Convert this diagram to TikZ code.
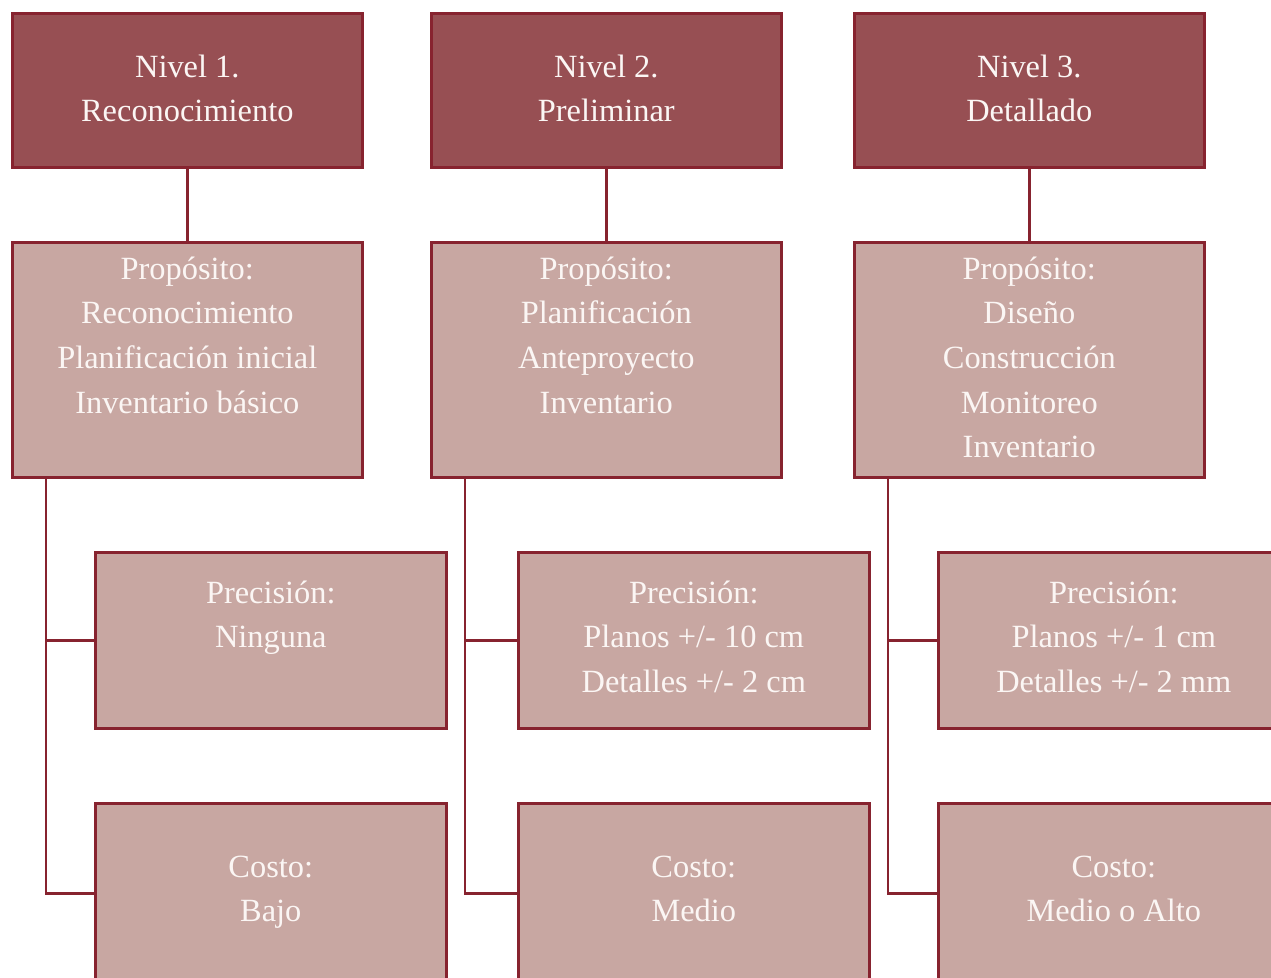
\documentclass[tikz,border=0pt]{standalone}
\usepackage{fontspec}
\setmainfont{Liberation Serif}
\usetikzlibrary{calc}
\definecolor{edge}{HTML}{87232F}
\definecolor{headfill}{HTML}{974F53}
\definecolor{bodyfill}{HTML}{C8A7A2}
\definecolor{ink}{HTML}{FBF6F4}
\begin{document}
\begin{tikzpicture}[x=1pt,y=-1pt,
  box/.style={draw=edge, line width=2.6pt, minimum width=350pt, anchor=north west, inner sep=0pt},
  head/.style={box, fill=headfill, minimum height=154pt},
  purpose/.style={box, fill=bodyfill, minimum height=235pt},
  detail/.style={box, fill=bodyfill, minimum width=351pt, minimum height=176pt},
  cost/.style={box, fill=bodyfill, minimum width=351pt, minimum height=180pt},
  txt/.style={text=ink, align=center, anchor=north, inner sep=0pt, font=\fontsize{32.4}{44.6}\selectfont},
  link/.style={draw=edge, line width=2.6pt}]
\useasboundingbox (0,0) rectangle (1271,977);
\clip (0,0) rectangle (1271,977);
\fill[white] (0,0) rectangle (1271,977);

% level headers
\node[head] (n1) at (11,12) {};
\node[head] (n2) at (430,12) {};
\node[head] (n3) at (853,12) {};

% purpose boxes
\node[purpose] (p1) at (11,241) {};
\node[purpose] (p2) at (430,241) {};
\node[purpose] (p3) at (853,241) {};

% precision boxes
\node[detail] (r1) at (94,551) {};
\node[detail] (r2) at (517,551) {};
\node[detail] (r3) at (937,551) {};

% cost boxes
\node[cost] (k1) at (94,802) {};
\node[cost] (k2) at (517,802) {};
\node[cost] (k3) at (937,802) {};

% connectors
\draw[link] (n1) -- (p1);
\draw[link] (n2) -- (p2);
\draw[link] (n3) -- (p3);
\foreach \c/\r/\k in {1/r1/k1, 2/r2/k2, 3/r3/k3} {
  \draw[link] ([xshift=35pt]p\c.south west) |- (\r.west);
  \draw[link] ([xshift=35pt]p\c.south west) |- (\k.west);
}

% texts
\node[txt] (t1) at ($(n1.north)+(0,33.8)$) {\strut Nivel 1.\\Reconocimiento};
\node[txt] (t2) at ($(n2.north)+(0,33.8)$) {\strut Nivel 2.\\Preliminar};
\node[txt] (t3) at ($(n3.north)+(0,33.8)$) {\strut Nivel 3.\\Detallado};

\node[txt] (u1) at ($(p1.north)+(0,6.8)$) {\strut Propósito:\\Reconocimiento\\Planificación inicial\\Inventario básico};
\node[txt] (u2) at ($(p2.north)+(0,6.8)$) {\strut Propósito:\\Planificación\\Anteproyecto\\Inventario};
\node[txt] (u3) at ($(p3.north)+(0,6.8)$) {\strut Propósito:\\Diseño\\Construcción\\Monitoreo\\Inventario};

\node[txt] (v1) at ($(r1.north)+(0,20.8)$) {\strut Precisión:\\Ninguna};
\node[txt] (v2) at ($(r2.north)+(0,20.8)$) {\strut Precisión:\\Planos +/- 10 cm\\Detalles +/- 2 cm};
\node[txt] (v3) at ($(r3.north)+(0,20.8)$) {\strut Precisión:\\Planos +/- 1 cm\\Detalles +/- 2 mm};

\node[txt] (w1) at ($(k1.north)+(0,43.8)$) {\strut Costo:\\Bajo};
\node[txt] (w2) at ($(k2.north)+(0,43.8)$) {\strut Costo:\\Medio};
\node[txt] (w3) at ($(k3.north)+(0,43.8)$) {\strut Costo:\\Medio o Alto};
\end{tikzpicture}
\end{document}
